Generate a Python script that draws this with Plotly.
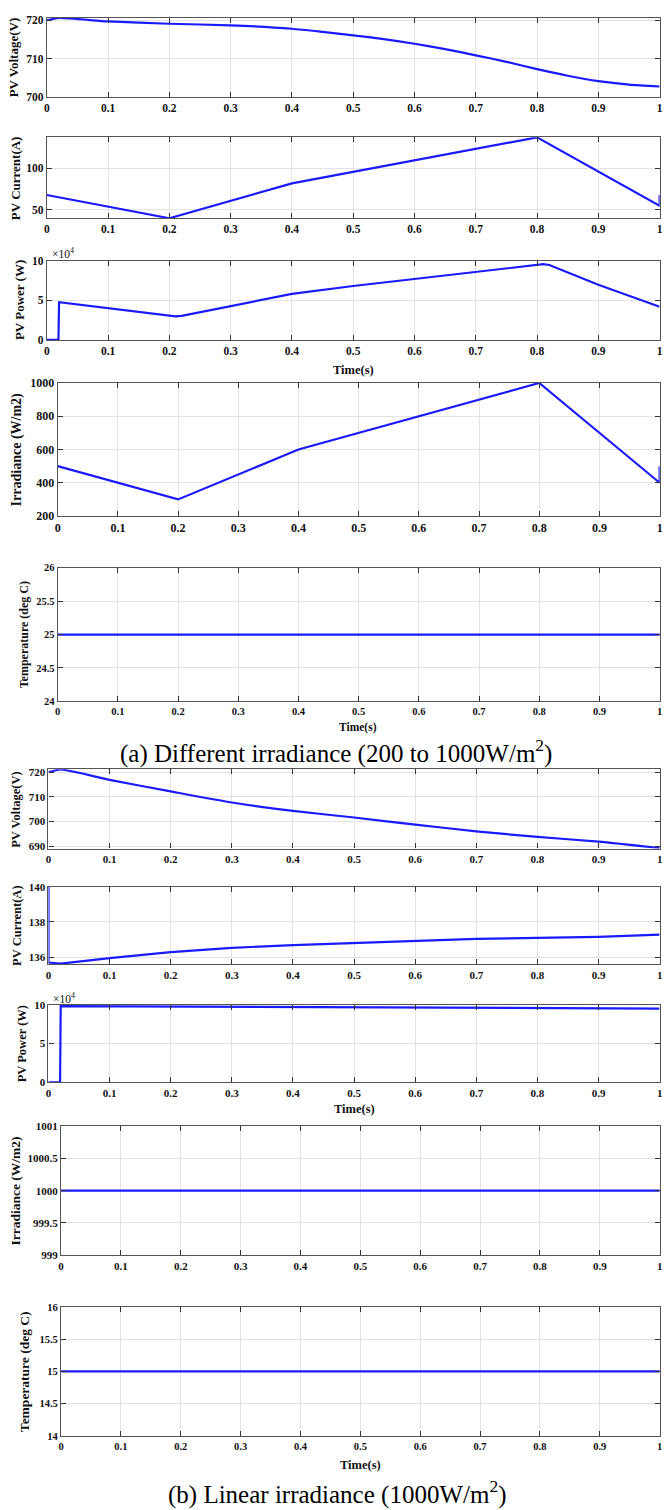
import plotly.graph_objects as go

# ---------------- data ----------------
# (a) Different irradiance
t_a_volt = [0, 0.02, 0.1, 0.2, 0.3, 0.4, 0.45, 0.5, 0.55, 0.6, 0.65, 0.7, 0.75, 0.8, 0.85, 0.9, 0.95, 1.0]
volt_a = [720.0, 720.6, 719.7, 719.1, 718.7, 717.8, 717.0, 716.1, 715.1, 713.9, 712.5, 710.9, 709.2, 707.3, 705.6, 704.2, 703.3, 702.8]

t_a_curr = [0, 0.2, 0.4, 0.8, 1.0, 1.0]
curr_a = [67.5, 39.4, 81.5, 137.2, 54.5, 67.5]

t_a_pow = [0, 0.019, 0.02, 0.1, 0.2, 0.21, 0.22, 0.3, 0.4, 0.5, 0.6, 0.7, 0.8, 0.81, 0.82, 0.9, 1.0]
pow_a = [0, 0, 4.75, 4.0, 3.05, 2.97, 3.02, 4.25, 5.8, 6.8, 7.7, 8.65, 9.5, 9.55, 9.45, 6.95, 4.18]  # x10^4 W

t_a_irr = [0, 0.2, 0.4, 0.8, 1.0, 1.0]
irr_a = [500, 300, 600, 1000, 400, 500]

t_const = [0, 1]
temp_a = [25, 25]

# (b) Linear irradiance
t_b_volt = [0, 0.02, 0.1, 0.2, 0.3, 0.4, 0.5, 0.6, 0.7, 0.8, 0.9, 1.0]
volt_b = [720.0, 721.1, 716.9, 712.2, 707.7, 704.3, 701.6, 698.7, 696.0, 693.7, 691.8, 689.2]

t_b_curr = [0, 0, 0.02, 0.1, 0.2, 0.3, 0.4, 0.5, 0.6, 0.7, 0.8, 0.9, 1.0]
curr_b = [140, 135.7, 135.63, 135.95, 136.29, 136.53, 136.69, 136.81, 136.91, 137.04, 137.1, 137.16, 137.28]

t_b_pow = [0, 0.019, 0.02, 0.2, 0.4, 0.6, 0.8, 1.0]
pow_b = [0, 0, 9.82, 9.76, 9.69, 9.62, 9.56, 9.5]  # x10^4 W

irr_b = [1000, 1000]
temp_b = [15, 15]

x_ticks = [0, 0.1, 0.2, 0.3, 0.4, 0.5, 0.6, 0.7, 0.8, 0.9, 1.0]
x_ticktext = ["0", "0.1", "0.2", "0.3", "0.4", "0.5", "0.6", "0.7", "0.8", "0.9", "1"]

yt_volt_a = [700, 710, 720]
yt_curr_a = [50, 100]
yt_pow = [0, 5, 10]
yt_irr_a = [200, 400, 600, 800, 1000]
yt_temp_a = [24, 24.5, 25, 25.5, 26]
yt_volt_b = [690, 700, 710, 720]
yt_curr_b = [136, 138, 140]
yt_irr_b = [999, 999.5, 1000, 1000.5, 1001]
yt_temp_b = [14, 14.5, 15, 15.5, 16]

titles = ["PV Voltage(V)", "PV Current(A)", "PV Power (W)", "Irradiance (W/m2)", "Temperature (deg C)",
          "PV Voltage(V)", "PV Current(A)", "PV Power (W)", "Irradiance (W/m2)", "Temperature (deg C)"]
caption_a = "(a) Different irradiance (200 to 1000W/m<sup>2</sup>)"
caption_b = "(b) Linear irradiance (1000W/m<sup>2</sup>)"

# ---------------- layout helpers ----------------
W, H = 666, 1510
FONT = "Liberation Serif"
BLUE = "#1a1aff"
TXT = "#111"

panels = [
    dict(x=t_a_volt, y=volt_a, yr=[700, 720.7], yt=yt_volt_a, box=(44.2, 662.6, 10.7, 91.1), fs=11.5, tx=11, ts=13, time=None, spline=True),
    dict(x=t_a_curr, y=curr_a, yr=[39.3, 137.3], yt=yt_curr_a, box=(44.2, 662.6, 131.5, 213.3), fs=11.5, tx=12.5, ts=13, time=None),
    dict(x=t_a_pow, y=pow_a, yr=[0, 10], yt=yt_pow, box=(44.2, 662.6, 256, 336), fs=11.5, tx=16, ts=13, time=(354, 366, 12.5), exp=(47, 248)),
    dict(x=t_a_irr, y=irr_a, yr=[200, 1000], yt=yt_irr_a, box=(55.2, 662.6, 379.5, 513.8), fs=12, tx=14, ts=14, time=None),
    dict(x=t_const, y=temp_a, yr=[24, 26], yt=yt_temp_a, box=(55.2, 662.6, 566, 700.8), fs=10.5, tx=21, ts=12, time=(358, 727, 11.5)),
    dict(x=t_b_volt, y=volt_b, yr=[689, 721.2], yt=yt_volt_b, box=(45.9, 662.6, 769.4, 849.4), fs=11, tx=13, ts=12.5, time=None, spline=True),
    dict(x=t_b_curr, y=curr_b, yr=[135.6, 140], yt=yt_curr_b, box=(45.9, 662.6, 888, 966.2), fs=11, tx=13.5, ts=12.5, time=None),
    dict(x=t_b_pow, y=pow_b, yr=[0, 10], yt=yt_pow, box=(45.9, 662.6, 1007, 1085.4), fs=11, tx=19, ts=12.5, time=(355, 1112.6, 12.5), exp=(48, 1000)),
    dict(x=t_const, y=irr_b, yr=[999, 1001], yt=yt_irr_b, box=(58.6, 662.6, 1129.5, 1260), fs=11, tx=13, ts=13.5, time=None),
    dict(x=t_const, y=temp_b, yr=[14, 16], yt=yt_temp_b, box=(58.6, 662.6, 1312, 1442.2), fs=10.5, tx=22, ts=13.5, time=(361, 1472, 12.5)),
]

fig = go.Figure()
layout = dict(
    width=W, height=H, margin=dict(l=0, r=0, t=0, b=0),
    paper_bgcolor="white", plot_bgcolor="white", showlegend=False,
    font=dict(family=FONT, color=TXT),
)
annotations = []

def fmt(v):
    return f"{v:g}"

for i, p in enumerate(panels, start=1):
    x0, x1, y0, y1 = p["box"]
    sfx = "" if i == 1 else str(i)
    line = dict(color=BLUE, width=2.2)
    if p.get("spline"):
        line.update(shape="spline", smoothing=0.6)
    fig.add_trace(go.Scatter(x=p["x"], y=p["y"], mode="lines", line=line,
                             xaxis="x" + sfx, yaxis="y" + sfx, hoverinfo="skip"))
    tickfont = dict(family=FONT, size=p["fs"], color=TXT, weight="bold")
    common = dict(
        tickfont=tickfont, showgrid=True, gridcolor="#e3e3e3", gridwidth=1,
        showline=True, linecolor="#555", linewidth=1.2, mirror="ticks",
        ticks="inside", ticklen=5, tickcolor="#333", zeroline=False,
    )
    layout["xaxis" + sfx] = dict(
        domain=[x0 / W, x1 / W], anchor="y" + sfx, range=[0, 1],
        tickvals=x_ticks, ticktext=x_ticktext, **common)
    layout["yaxis" + sfx] = dict(
        domain=[1 - y1 / H, 1 - y0 / H], anchor="x" + sfx, range=p["yr"],
        tickvals=p["yt"], ticktext=[fmt(v) for v in p["yt"]], **common)
    annotations.append(dict(
        text="<b>" + titles[i - 1] + "</b>", xref="paper", yref="paper",
        x=p["tx"] / W, y=1 - (y0 + y1) / 2 / H, textangle=-90,
        xanchor="center", yanchor="middle", showarrow=False,
        font=dict(family=FONT, size=p["ts"], color=TXT),
    ))
    if p["time"]:
        tx, ty, ts = p["time"]
        annotations.append(dict(
            text="<b>Time(s)</b>", xref="paper", yref="paper",
            x=tx / W, y=1 - ty / H, xanchor="center", yanchor="middle",
            showarrow=False, font=dict(family=FONT, size=ts, color=TXT),
        ))
    if p.get("exp"):
        ex, ey = p["exp"]
        annotations.append(dict(
            text="×10<sup>4</sup>", xref="paper", yref="paper",
            x=ex / W, y=1 - ey / H, xanchor="left", yanchor="middle",
            showarrow=False, font=dict(family=FONT, size=11.5, color=TXT),
        ))

annotations.append(dict(text=caption_a, xref="paper", yref="paper", x=336 / W, y=1 - 751 / H,
                        xanchor="center", yanchor="middle", showarrow=False,
                        font=dict(family=FONT, size=25, color="black")))
annotations.append(dict(text=caption_b, xref="paper", yref="paper", x=337 / W, y=1 - 1499 / H,
                        xanchor="center", yanchor="middle", showarrow=False,
                        font=dict(family=FONT, size=25, color="black")))
layout["annotations"] = annotations
fig.update_layout(**layout)
fig.write_html("out.html")
